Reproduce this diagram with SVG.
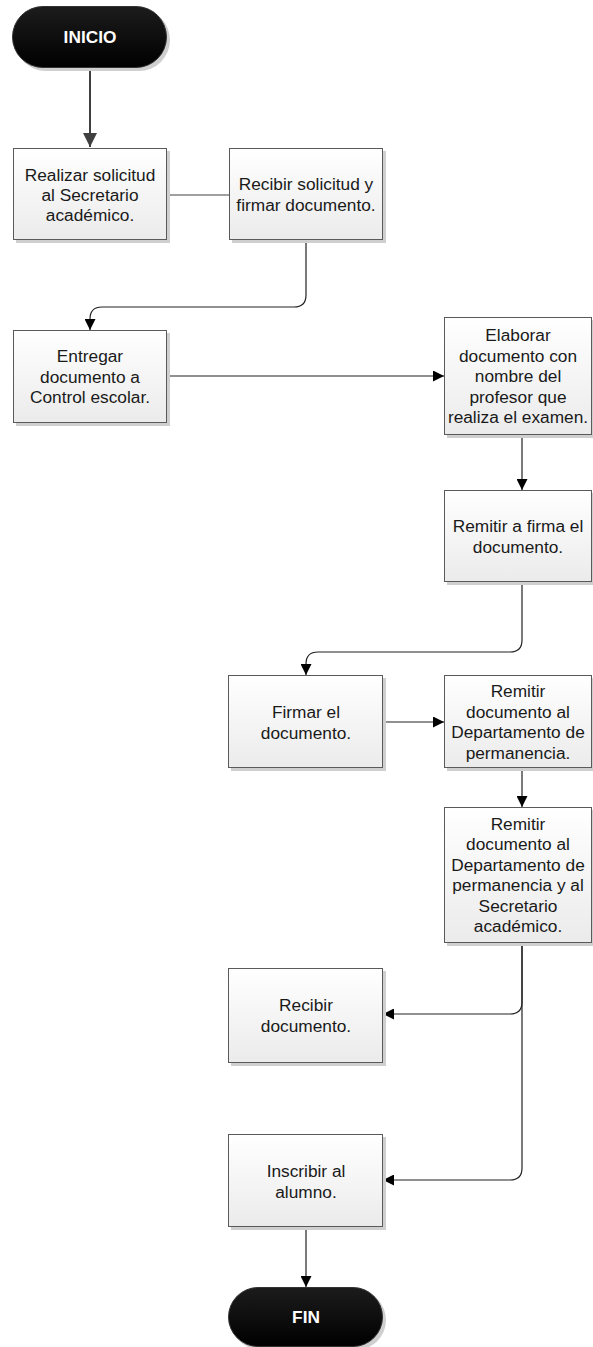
<svg xmlns="http://www.w3.org/2000/svg" width="593" height="1347" viewBox="0 0 593 1347">
<defs>
<linearGradient id="boxg" x1="0" y1="0" x2="0" y2="1">
<stop offset="0" stop-color="#ffffff"/>
<stop offset="1" stop-color="#ebebeb"/>
</linearGradient>
<linearGradient id="pillg" x1="0" y1="0" x2="0" y2="1">
<stop offset="0" stop-color="#1c1c1c"/>
<stop offset="1" stop-color="#000000"/>
</linearGradient>
<marker id="arr" viewBox="0 0 10 10" refX="10" refY="5" markerWidth="11" markerHeight="11" markerUnits="userSpaceOnUse" orient="auto">
<path d="M0,0 L10,5 L0,10 z" fill="#000"/>
</marker>
<marker id="arrBig" viewBox="0 0 10 10" refX="10" refY="5" markerWidth="14" markerHeight="14" markerUnits="userSpaceOnUse" orient="auto">
<path d="M0,0 L10,5 L0,10 z" fill="#404040"/>
</marker>
</defs>
<style>
.shadow{fill:#cfcfcf;}
.box{fill:url(#boxg);stroke:#5a5a5a;stroke-width:1;}
.pill{fill:url(#pillg);stroke:#333;stroke-width:1;}
.t{font-family:"Liberation Sans",Arial,sans-serif;font-size:17.3px;fill:#1a1a1a;text-anchor:middle;}
.tw{font-family:"Liberation Sans",Arial,sans-serif;font-size:17.3px;font-weight:bold;fill:#ffffff;text-anchor:middle;}
.c{fill:none;stroke:#222;stroke-width:1.2;}
</style>
<rect width="593" height="1347" fill="#ffffff"/>

<g id="connectors">
<path class="c" d="M90,68 V147" style="stroke:#404040;stroke-width:2" marker-end="url(#arrBig)"/>
<path class="c" d="M167,195 H229" style="stroke:#404040"/>
<path class="c" d="M306,240 V295 Q306,307 294,307 H102 Q90,307 90,319 V330" marker-end="url(#arr)"/>
<path class="c" d="M167,376 H444" marker-end="url(#arr)"/>
<path class="c" d="M522,435 V490" marker-end="url(#arr)"/>
<path class="c" d="M522,582 V640 Q522,652 510,652 H318 Q306,652 306,664 V675" marker-end="url(#arr)"/>
<path class="c" d="M383,722 H444" marker-end="url(#arr)"/>
<path class="c" d="M522,768 V807" marker-end="url(#arr)"/>
<path class="c" d="M522,943 V1002 Q522,1014 510,1014 H383" marker-end="url(#arr)"/>
<path class="c" d="M522,943 V1168 Q522,1180 510,1180 H383" marker-end="url(#arr)"/>
<path class="c" d="M306,1227 V1287" marker-end="url(#arr)"/>
</g>

<g id="inicio">
<rect class="shadow" x="15" y="9" width="155" height="62" rx="31"/>
<rect class="pill" x="12.5" y="6.5" width="154" height="61" rx="30.5"/>
<text class="tw" x="90" y="43">INICIO</text>
</g>

<g id="n1">
<rect class="shadow" x="16" y="151" width="154" height="92"/>
<rect class="box" x="13.5" y="148.5" width="153" height="91"/>
<text class="t" x="90"><tspan x="90" y="180.5">Realizar solicitud</tspan><tspan x="90" y="200.5">al Secretario</tspan><tspan x="90" y="220.5">académico.</tspan></text>
</g>

<g id="n2">
<rect class="shadow" x="232" y="151" width="154" height="92"/>
<rect class="box" x="229.5" y="148.5" width="153" height="91"/>
<text class="t"><tspan x="306" y="190">Recibir solicitud y</tspan><tspan x="306" y="210.5">firmar documento.</tspan></text>
</g>

<g id="n3">
<rect class="shadow" x="16" y="333" width="154" height="93"/>
<rect class="box" x="13.5" y="330.5" width="153" height="92"/>
<text class="t"><tspan x="90" y="362">Entregar</tspan><tspan x="90" y="382.5">documento a</tspan><tspan x="90" y="403">Control escolar.</tspan></text>
</g>

<g id="n4">
<rect class="shadow" x="447" y="320" width="148" height="118"/>
<rect class="box" x="444.5" y="317.5" width="147" height="117"/>
<text class="t"><tspan x="518" y="341">Elaborar</tspan><tspan x="518" y="361.5">documento con</tspan><tspan x="518" y="382">nombre del</tspan><tspan x="518" y="402.5">profesor que</tspan><tspan x="518" y="423">realiza el examen.</tspan></text>
</g>

<g id="n5">
<rect class="shadow" x="447" y="493" width="148" height="92"/>
<rect class="box" x="444.5" y="490.5" width="147" height="91"/>
<text class="t"><tspan x="518" y="532">Remitir a firma el</tspan><tspan x="518" y="552.5">documento.</tspan></text>
</g>

<g id="n6">
<rect class="shadow" x="231" y="678" width="155" height="93"/>
<rect class="box" x="228.5" y="675.5" width="154" height="92"/>
<text class="t"><tspan x="306" y="718">Firmar el</tspan><tspan x="306" y="738.5">documento.</tspan></text>
</g>

<g id="n7">
<rect class="shadow" x="447" y="678" width="148" height="93"/>
<rect class="box" x="444.5" y="675.5" width="147" height="92"/>
<text class="t"><tspan x="518" y="697">Remitir</tspan><tspan x="518" y="717.5">documento al</tspan><tspan x="518" y="738">Departamento de</tspan><tspan x="518" y="758.5">permanencia.</tspan></text>
</g>

<g id="n8">
<rect class="shadow" x="447" y="810" width="148" height="136"/>
<rect class="box" x="444.5" y="807.5" width="147" height="135"/>
<text class="t"><tspan x="518" y="829.5">Remitir</tspan><tspan x="518" y="850">documento al</tspan><tspan x="518" y="870.5">Departamento de</tspan><tspan x="518" y="891">permanencia y al</tspan><tspan x="518" y="911.5">Secretario</tspan><tspan x="518" y="932">académico.</tspan></text>
</g>

<g id="n9">
<rect class="shadow" x="231" y="971" width="155" height="95"/>
<rect class="box" x="228.5" y="968.5" width="154" height="94"/>
<text class="t"><tspan x="306" y="1011">Recibir</tspan><tspan x="306" y="1031.5">documento.</tspan></text>
</g>

<g id="n10">
<rect class="shadow" x="231" y="1137" width="155" height="93"/>
<rect class="box" x="228.5" y="1134.5" width="154" height="92"/>
<text class="t"><tspan x="306" y="1177">Inscribir al</tspan><tspan x="306" y="1197.5">alumno.</tspan></text>
</g>

<g id="fin">
<rect class="shadow" x="231" y="1290" width="155" height="60" rx="30"/>
<rect class="pill" x="228.5" y="1287.5" width="154" height="59" rx="29.5"/>
<text class="tw" x="306" y="1323">FIN</text>
</g>
</svg>
